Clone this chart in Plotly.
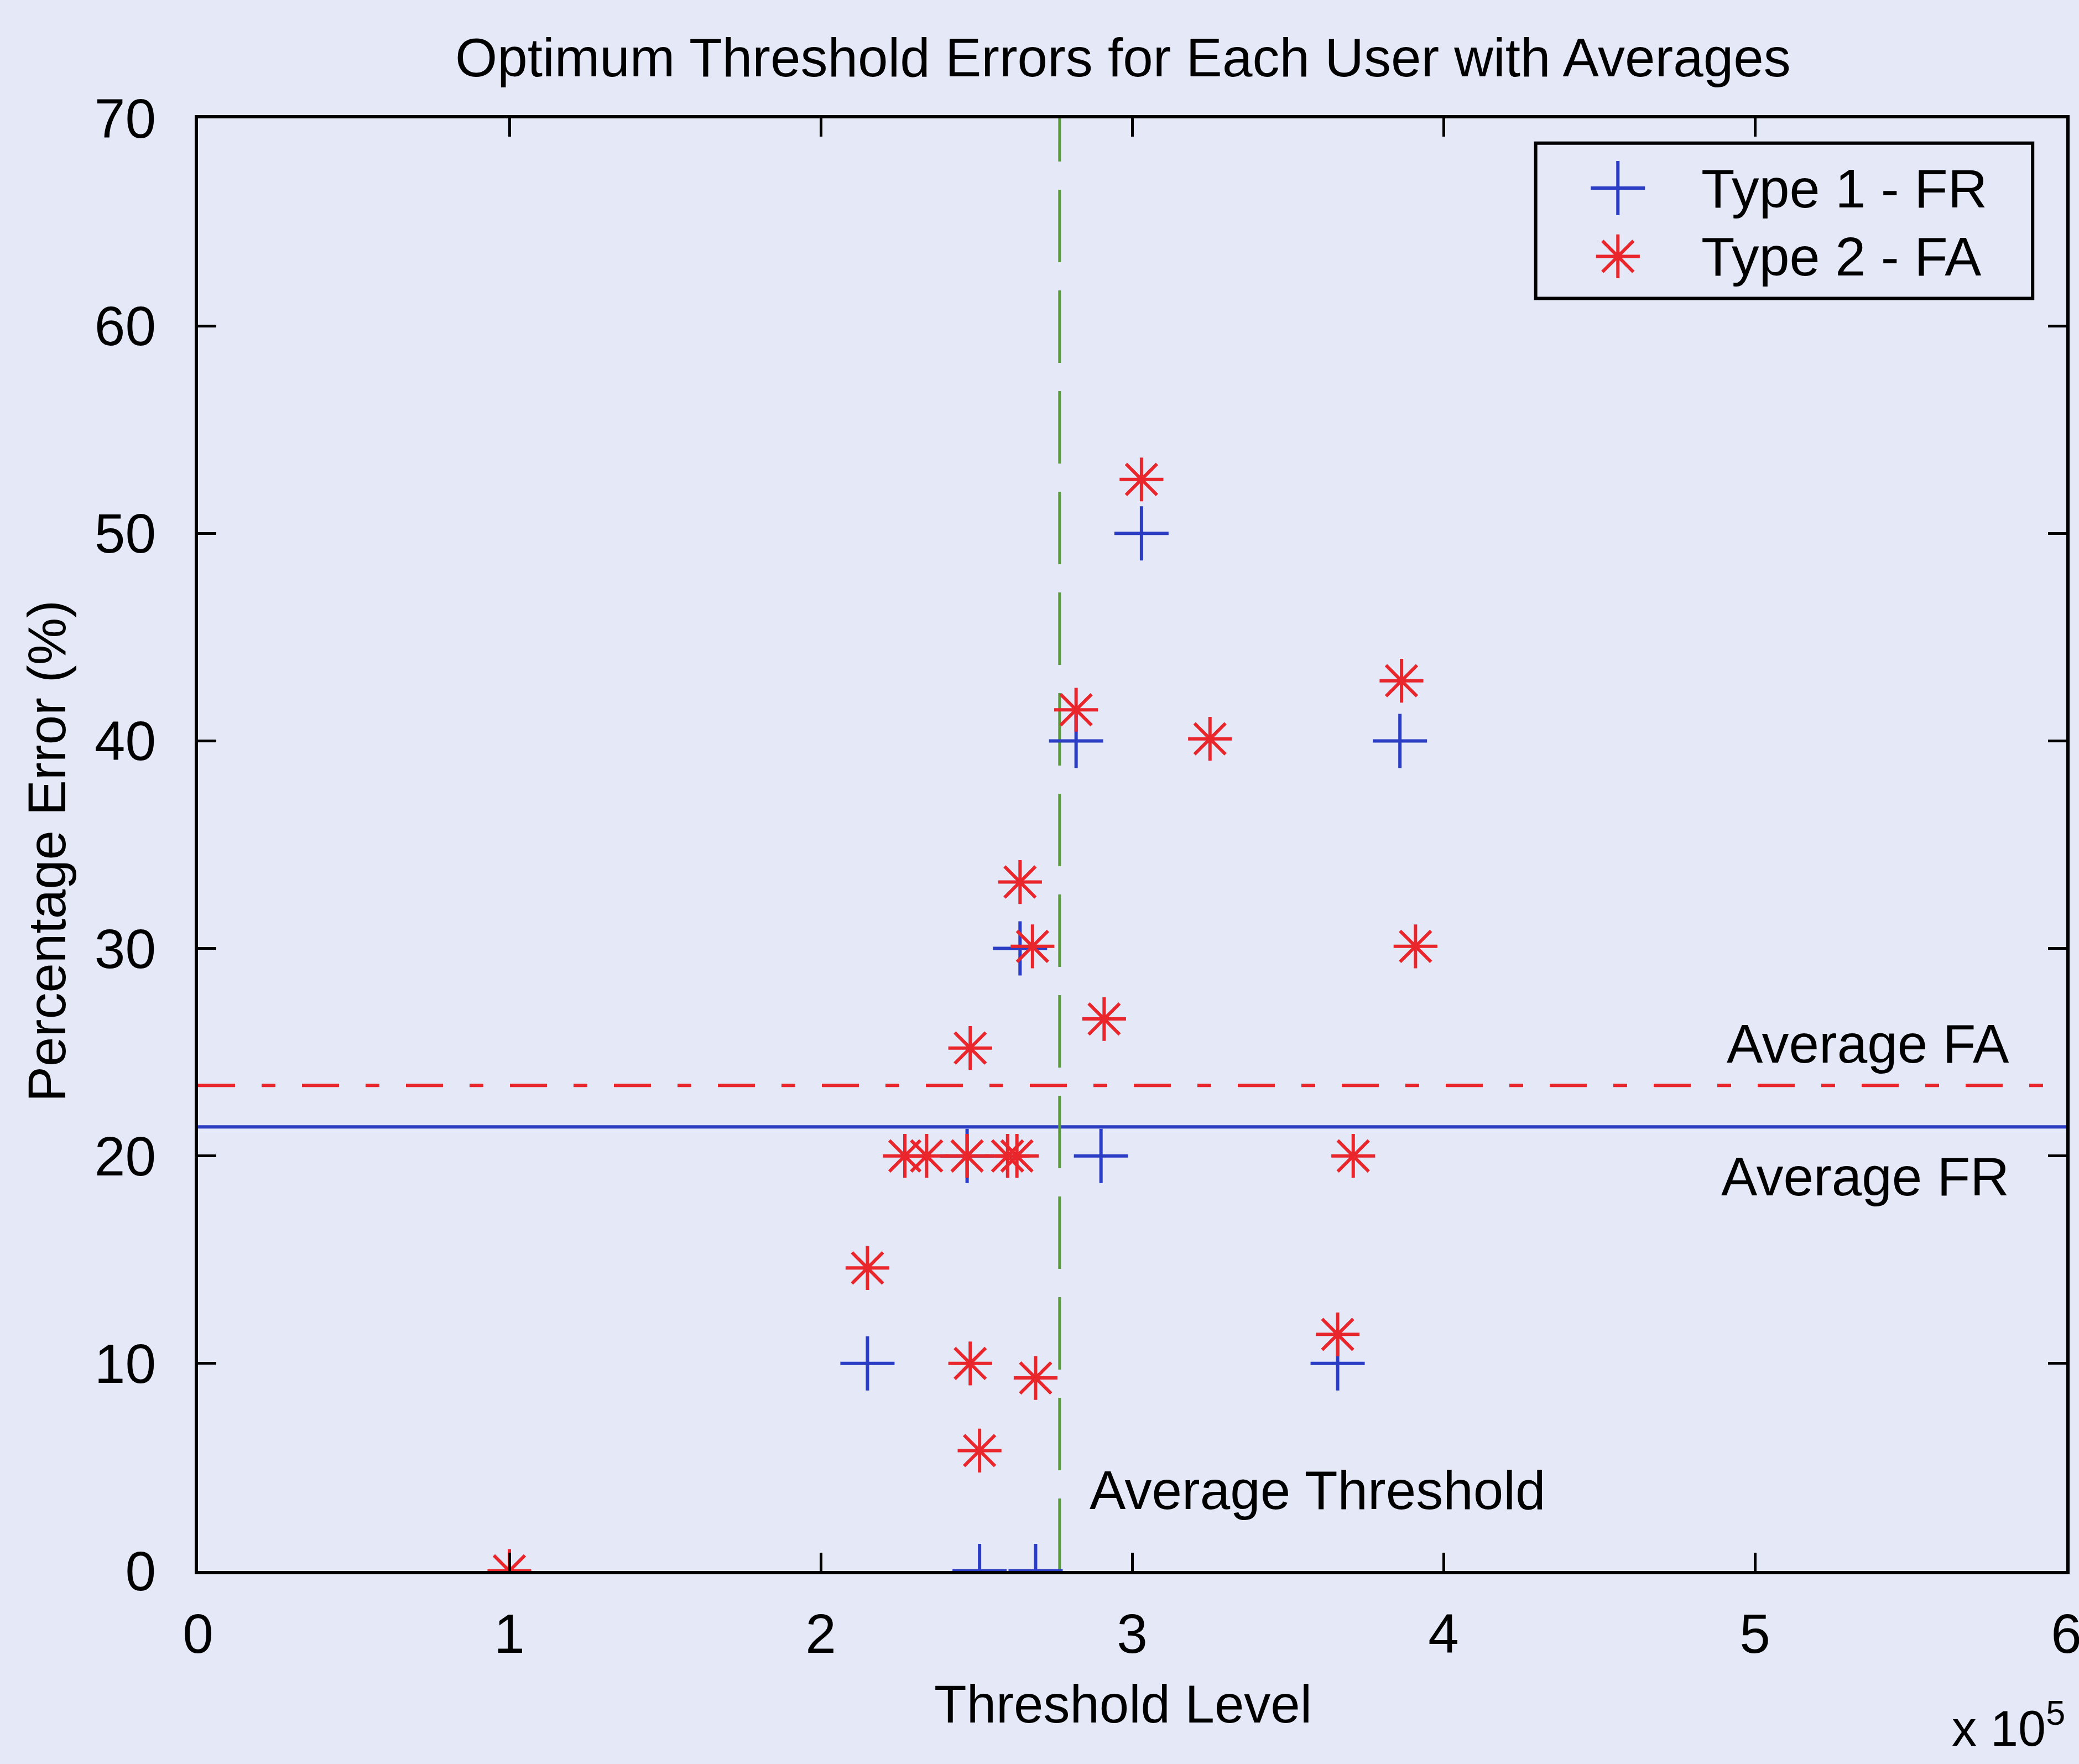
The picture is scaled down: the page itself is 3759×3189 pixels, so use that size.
import plotly.graph_objects as go

# Per-user optimum thresholds (x 10^5) and error rates (%)
fr_threshold = [3.03, 2.82, 3.86, 2.64, 2.47, 2.90, 2.15, 3.66, 2.51, 2.69]
fr_error = [50, 40, 40, 30, 20, 20, 10, 10, 0, 0]

fa_threshold = [3.03, 3.865, 2.82, 3.25, 2.64, 2.68, 3.91, 2.91, 2.48,
                2.27, 2.34, 2.47, 2.60, 2.63, 3.71, 2.15, 3.66, 2.48,
                2.69, 2.51, 1.00]
fa_error = [52.6, 42.9, 41.5, 40.1, 33.2, 30.1, 30.1, 26.6, 25.2,
            20, 20, 20, 20, 20, 20, 14.6, 11.4, 10,
            9.3, 5.8, 0]

avg_fr = 21.4
avg_fa = 23.4
avg_threshold = 2.767

x_ticks = [0, 1, 2, 3, 4, 5, 6]
y_ticks = [0, 10, 20, 30, 40, 50, 60, 70]

BG = "#E4E8F7"
BLUE = "#2B3DC4"
RED = "#E8262C"
GREEN = "#5A9E3A"
FONT = "Liberation Sans, Arial, sans-serif"

W, H = 3759, 3189
L, R, T, B = 358, 23, 214, 349

FR_MARKER = dict(symbol="cross-thin-open", size=70, color=BLUE, line=dict(color=BLUE, width=6))
FA_MARKER = dict(symbol="asterisk-open", size=66, color=RED, line=dict(color=RED, width=6))

fig = go.Figure()

# legend box sits beneath the traces so its key glyphs stay visible
leg_x0, leg_x1, leg_y0, leg_y1 = 0.716, 0.982, 0.876, 0.983
fig.add_shape(type="rect", xref="paper", yref="paper", x0=leg_x0, x1=leg_x1, y0=leg_y0, y1=leg_y1,
              line=dict(color="black", width=6), fillcolor=BG, layer="below")

# average lines
fig.add_trace(go.Scatter(x=[x_ticks[0], x_ticks[-1]], y=[avg_fr, avg_fr], mode="lines",
                         line=dict(color=BLUE, width=6), showlegend=False, hoverinfo="skip"))
fig.add_trace(go.Scatter(x=[x_ticks[0], x_ticks[-1]], y=[avg_fa, avg_fa], mode="lines",
                         line=dict(color=RED, width=6, dash="67px,48px,25px,48px"),
                         showlegend=False, hoverinfo="skip"))
fig.add_trace(go.Scatter(x=[avg_threshold, avg_threshold], y=[y_ticks[0], y_ticks[-1]], mode="lines",
                         line=dict(color=GREEN, width=5, dash="131px,51px"),
                         showlegend=False, hoverinfo="skip"))

# per-user points
fig.add_trace(go.Scatter(x=fr_threshold, y=fr_error, mode="markers", name="Type 1 - FR",
                         marker=FR_MARKER, showlegend=False))
fig.add_trace(go.Scatter(x=fa_threshold, y=fa_error, mode="markers", name="Type 2 - FA",
                         marker=FA_MARKER, showlegend=False))

# legend key glyphs on a helper axis spanning the plot area
key_x = 0.760
row_y = [0.952, 0.905]
fig.add_trace(go.Scatter(x=[key_x], y=[row_y[0]], xaxis="x2", yaxis="y2", mode="markers",
                         marker=FR_MARKER, showlegend=False, hoverinfo="skip"))
fig.add_trace(go.Scatter(x=[key_x], y=[row_y[1]], xaxis="x2", yaxis="y2", mode="markers",
                         marker=FA_MARKER, showlegend=False, hoverinfo="skip"))

annotations = [
    dict(text="Type 1 - FR", x=0.804, y=row_y[0], xanchor="left", yanchor="middle",
         font=dict(size=99)),
    dict(text="Type 2 - FA", x=0.804, y=row_y[1], xanchor="left", yanchor="middle",
         font=dict(size=99)),
    dict(text="Optimum Threshold Errors for Each User with Averages", x=0.495, y=1.0,
         yshift=110, xanchor="center", yanchor="middle", font=dict(size=98)),
    dict(text="Percentage Error (%)", x=0, xshift=-274, y=0.5, yshift=-12, textangle=-90,
         xanchor="center", yanchor="middle"),
    dict(text="Threshold Level", x=0.495, y=0, yshift=-240, xanchor="center", yanchor="middle"),
    dict(text="x 10<sup>5</sup>", x=1.0, y=0, yshift=-278, xanchor="right", yanchor="middle",
         font=dict(size=90)),
]
for a in annotations:
    a.setdefault("font", dict(size=96))
    a["font"] = dict(family=FONT, color="black", **a["font"])
    a.update(xref="paper", yref="paper", showarrow=False)
    fig.add_annotation(**a)

for text, xv, yv in [("Average FA", 5.82, 25.4), ("Average FR", 5.82, 19.0),
                     ("Average Threshold", 2.86, 3.9)]:
    fig.add_annotation(text=text, x=xv, y=yv, xref="x", yref="y", showarrow=False,
                       xanchor="right" if text != "Average Threshold" else "left",
                       yanchor="middle", font=dict(family=FONT, size=98, color="black"))

axis_common = dict(showgrid=False, zeroline=False, showline=True, linecolor="black", linewidth=6,
                   mirror="ticks", ticks="inside", ticklen=33, tickwidth=5, tickcolor="black",
                   ticklabeloverflow="allow",
                   tickfont=dict(family=FONT, size=100, color="black"))

fig.update_layout(
    width=W, height=H, autosize=False,
    paper_bgcolor=BG, plot_bgcolor=BG,
    margin=dict(l=L, r=R, t=T, b=B, autoexpand=False),
    showlegend=False,
    xaxis=dict(range=[x_ticks[0], x_ticks[-1]], tickvals=x_ticks,
               ticktext=[str(v) for v in x_ticks], ticklabelstandoff=22, **axis_common),
    yaxis=dict(range=[y_ticks[0], y_ticks[-1]], tickvals=y_ticks,
               ticktext=[str(v) for v in y_ticks], ticklabelstandoff=50, **axis_common),
    xaxis2=dict(range=[0, 1], overlaying="x", visible=False, fixedrange=True),
    yaxis2=dict(range=[0, 1], overlaying="y", visible=False, fixedrange=True),
)

fig.write_html("out.html")
